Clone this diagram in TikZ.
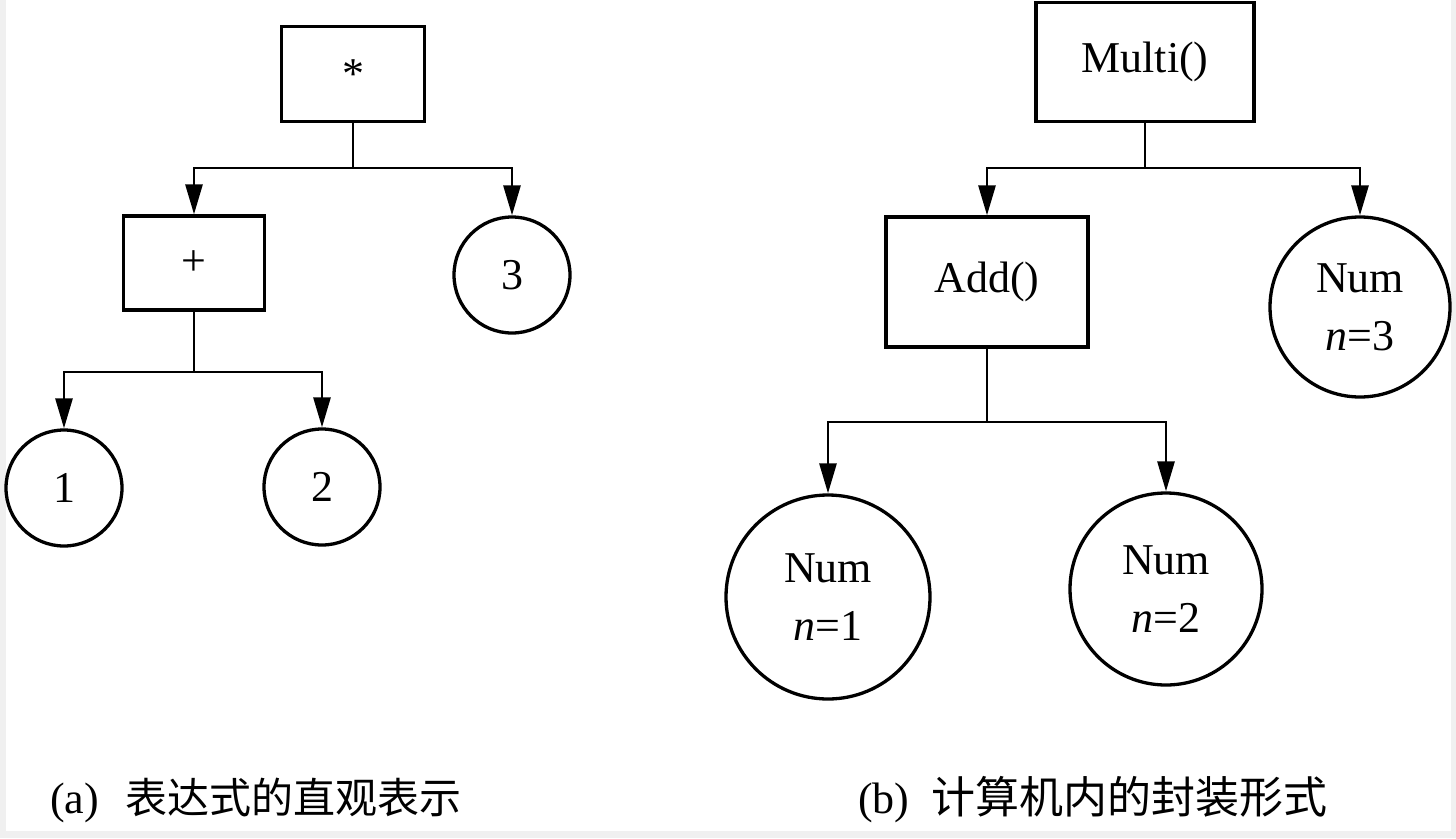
\documentclass[tikz,border=0pt]{standalone}
\usepackage{fontspec}
\setmainfont{Liberation Serif}
\newfontfamily\cjk{Noto Sans CJK SC}
\usetikzlibrary{arrows.meta}
\begin{document}
\begin{tikzpicture}[x=1pt,y=-1pt,
  every node/.style={inner sep=0pt,font=\fontsize{44}{58}\selectfont},
  box/.style={draw,line width=3.3pt,rectangle,align=center},
  ball/.style={draw,line width=3.3pt,circle,align=center},
  conn/.style={line width=2.8pt},
  arr/.style={conn,-{Triangle[length=30pt,width=17pt]}},
  captext/.style={anchor=west,font=\fontsize{44}{50}\selectfont}]
\fill[gray!12] (0,0) rectangle (1456,838);
\fill[white] (6,0) rectangle (1451,831);
\useasboundingbox (0,0) rectangle (1456,838);
% (a)
\node[box,minimum width=143pt,minimum height=95pt] (star) at (353,74) {*};
\node[box,minimum width=141pt,minimum height=94pt] (plus) at (194,263) {+};
\node[ball,minimum size=116pt] (c3) at (512,275) {3};
\node[ball,minimum size=116pt] (c1) at (64,488) {1};
\node[ball,minimum size=116pt] (c2) at (322,487) {2};
\coordinate (ja) at (353,168);
\coordinate (jb) at (194,372);
\draw[conn] (star.south) -- (ja);
\draw[arr] (ja) -| (plus.north);
\draw[arr] (ja) -| (c3.north);
\draw[conn] (plus.south) -- (jb);
\draw[arr] (jb) -| (c1.north);
\draw[arr] (jb) -| (c2.north);
% (b)
\node[box,minimum width=218pt,minimum height=119pt] (multi) at (1145,62) {Multi()};
\node[box,minimum width=202pt,minimum height=130pt] (add) at (987,282) {Add()};
\node[ball,minimum size=180pt] (n3) at (1360,307) {Num\\\textit{n}=3};
\node[ball,minimum size=204pt] (n1) at (828,597) {Num\\\textit{n}=1};
\node[ball,minimum size=192pt] (n2) at (1166,589) {Num\\\textit{n}=2};
\coordinate (jc) at (1145,168);
\coordinate (jd) at (987,422);
\draw[conn] (multi.south) -- (jc);
\draw[arr] (jc) -| (add.north);
\draw[arr] (jc) -| (n3.north);
\draw[conn] (add.south) -- (jd);
\draw[arr] (jd) -| (n1.north);
\draw[arr] (jd) -| (n2.north);
% captions
\node[captext] (capa) at (50,800) {(a)\hspace{26pt}{\cjk\fontsize{42}{50}\selectfont 表达式的直观表示}};
\node[captext] (capb) at (858,800) {(b)\hspace{22pt}{\cjk 计算机内的封装形式}};
\end{tikzpicture}
\end{document}
